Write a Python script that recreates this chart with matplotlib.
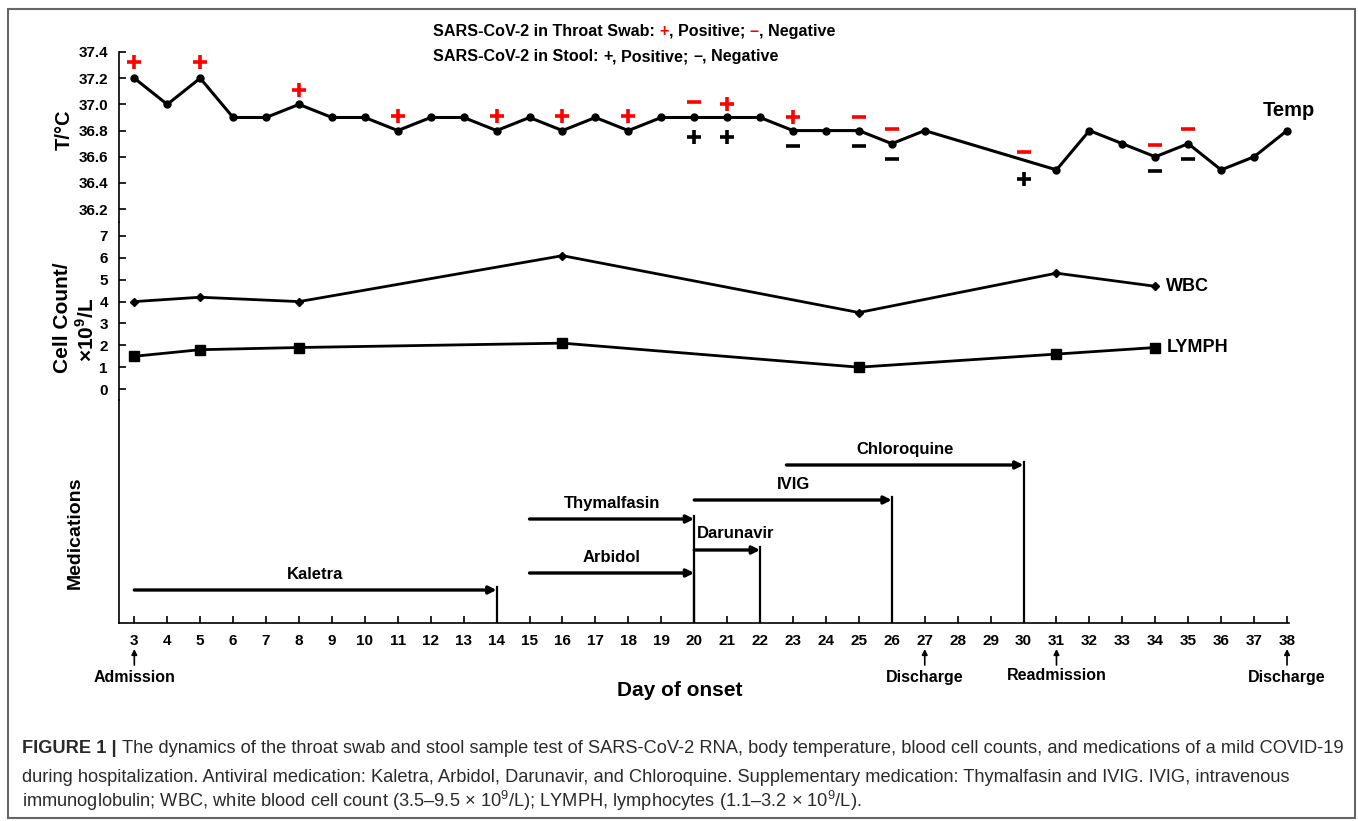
import numpy as np
import matplotlib.pyplot as plt
from matplotlib.patches import Rectangle

plt.rcParams['font.family'] = ['Liberation Sans', 'DejaVu Sans']
plt.rcParams['font.weight'] = 'bold'
plt.rcParams['mathtext.fontset'] = 'custom'
plt.rcParams['mathtext.rm'] = 'Liberation Sans'
plt.rcParams['mathtext.bf'] = 'Liberation Sans:bold'

# body temperature by day of onset (no readings on days 28-30)
temp_day = [3, 4, 5, 6, 7, 8, 9, 10, 11, 12, 13, 14, 15, 16, 17, 18, 19, 20, 21, 22,
            23, 24, 25, 26, 27, 31, 32, 33, 34, 35, 36, 37, 38]
temp_val = [37.2, 37.0, 37.2, 36.9, 36.9, 37.0, 36.9, 36.9, 36.8, 36.9, 36.9, 36.8, 36.9,
            36.8, 36.9, 36.8, 36.9, 36.9, 36.9, 36.9, 36.8, 36.8, 36.8, 36.7, 36.8,
            36.5, 36.8, 36.7, 36.6, 36.7, 36.5, 36.6, 36.8]

# SARS-CoV-2 results (sign, day, height on the temperature scale)
throat_day = [3, 5, 8, 11, 14, 16, 18, 20, 21, 23, 25, 26, 30, 34, 35]
throat_res = ['+', '+', '+', '+', '+', '+', '+', '-', '+', '+', '-', '-', '-', '-', '-']
throat_y = [37.32, 37.32, 37.11, 36.91, 36.91, 36.91, 36.91, 37.02, 37.0, 36.9, 36.9,
            36.81, 36.64, 36.69, 36.81]
stool_day = [20, 21, 23, 25, 26, 30, 34, 35]
stool_res = ['+', '+', '-', '-', '-', '+', '-', '-']
stool_y = [36.75, 36.75, 36.68, 36.68, 36.58, 36.43, 36.49, 36.58]

# blood cell counts (x10^9/L)
cell_day = [3, 5, 8, 16, 25, 31, 34]
wbc = [4.0, 4.2, 4.0, 6.1, 3.5, 5.3, 4.7]
lymph = [1.5, 1.8, 1.9, 2.1, 1.0, 1.6, 1.9]

# medications
med_names = ['Kaletra', 'Arbidol', 'Darunavir', 'Thymalfasin', 'IVIG', 'Chloroquine']
med_start = [3, 15, 20, 15, 20, 22.8]
med_end = [14, 20, 22, 20, 26, 30]
med_lane = [33, 50, 73, 104, 123, 158]

event_day = [3, 27, 31, 38]
event_name = ['Admission', 'Discharge', 'Readmission', 'Discharge']

W, H = 1358, 821
fig = plt.figure(figsize=(W / 100, H / 100), dpi=100)


def fx(px):
    return px / W


def fy(py):
    return 1 - py / H


x0, x1 = 119, 1289
xlim = (2.535, 38.06)


def box(top, bottom):
    ax = fig.add_axes([fx(x0), fy(bottom), (x1 - x0) / W, (bottom - top) / H])
    ax.set_xlim(*xlim)
    ax.patch.set_alpha(0)
    for s in ['top', 'right', 'bottom']:
        ax.spines[s].set_visible(False)
    ax.spines['left'].set_linewidth(1.2)
    ax.tick_params(direction='in', length=5, width=1.2, labelsize=11, pad=8)
    return ax


ax_t = box(52, 222)
ax_c = box(222, 400)
ax_m = box(400, 623)

# temperature
ax_t.set_ylim(36.102, 37.4)
ax_t.set_yticks(np.arange(36.2, 37.41, 0.2))
ax_t.set_yticklabels(['%.1f' % v for v in np.arange(36.2, 37.41, 0.2)])
ax_t.set_xticks([])
ax_t.plot(temp_day, temp_val, '-', color='black', lw=2.2, marker='o', ms=5, clip_on=False)
ax_t.annotate('Temp', xy=(38, 36.8), xytext=(2, 20), textcoords='offset pixels',
              ha='center', va='center', fontsize=14.5)
for d, r, y in zip(throat_day, throat_res, throat_y):
    ax_t.plot(d, y, marker='+' if r == '+' else '_', color='red', ms=9.5, mew=2.6, clip_on=False)
for d, r, y in zip(stool_day, stool_res, stool_y):
    ax_t.plot(d, y, marker='+' if r == '+' else '_', color='black', ms=9.5, mew=2.6, clip_on=False)

# cell counts
ax_c.set_ylim(-0.5, 7.64)
ax_c.set_yticks(range(0, 8))
ax_c.set_xticks([])
ax_c.plot(cell_day, wbc, '-', color='black', lw=2, marker='D', ms=4.5)
ax_c.plot(cell_day, lymph, '-', color='black', lw=2, marker='s', ms=7)
ax_c.annotate('WBC', xy=(cell_day[-1], wbc[-1]), xytext=(11, 0), textcoords='offset pixels',
              ha='left', va='center', fontsize=13)
ax_c.annotate('LYMPH', xy=(cell_day[-1], lymph[-1]), xytext=(11, 0), textcoords='offset pixels',
              ha='left', va='center', fontsize=13)

# medications (y in pixel units above the day axis)
ax_m.set_ylim(0, 223)
ax_m.set_yticks([])
ax_m.spines['bottom'].set_visible(True)
ax_m.spines['bottom'].set_linewidth(1.2)
ax_m.set_xticks(range(3, 39))
for name, s, e, lane in zip(med_names, med_start, med_end, med_lane):
    ax_m.annotate('', xy=(e, lane), xytext=(s, lane),
                  arrowprops=dict(arrowstyle='-|>', color='black', lw=2.4,
                                  mutation_scale=11, shrinkA=0, shrinkB=0))
    ax_m.plot([e, e], [0, lane + 3], color='black', lw=1.6)
    if name == 'Darunavir':
        ax_m.annotate(name, xy=(s, lane), xytext=(3, 16), textcoords='offset pixels',
                      ha='left', va='center', fontsize=12)
    else:
        ax_m.annotate(name, xy=((s + e) / 2, lane), xytext=(0, 16), textcoords='offset pixels',
                      ha='center', va='center', fontsize=12)

for d, name in zip(event_day, event_name):
    ax_m.annotate('', xy=(d, -26), xytext=(d, -42), annotation_clip=False,
                  arrowprops=dict(arrowstyle='-|>', color='black', lw=1.2,
                                  mutation_scale=8, shrinkA=0, shrinkB=0))
    ax_m.text(d, -54 if name != 'Readmission' else -52, name, ha='center', va='center',
              fontsize=11.5, clip_on=False)

fig.text(fx(680), fy(691), 'Day of onset', ha='center', va='center', fontsize=15)

# axis titles
fig.text(fx(64), fy(130), 'T/°C', rotation=90, ha='center', va='center', fontsize=14.5)
fig.text(fx(62), fy(318), 'Cell Count/', rotation=90, ha='center', va='center', fontsize=15)
fig.text(fx(86), fy(330), '×10$^{\\mathregular{9}}$/L', rotation=90, ha='center',
         va='center', fontsize=15)
fig.text(fx(75), fy(533), 'Medications', rotation=90, ha='center', va='center', fontsize=14)


def text_run(x, y, parts, size, weight='bold'):
    # pieces of one line, each set right after the previous one
    prev = fig.text(fx(x), fy(y), parts[0][0], color=parts[0][1], fontsize=size,
                    weight=parts[0][2] if len(parts[0]) > 2 else weight, va='bottom')
    for p in parts[1:]:
        prev = ax_t.annotate(p[0], xy=(1, 0), xycoords=prev, va='bottom', ha='left',
                             color=p[1], fontsize=size,
                             weight=p[2] if len(p) > 2 else weight, annotation_clip=False)


# legend lines at the top
text_run(433, 39, [('SARS-CoV-2 in Throat Swab: ', 'black'), ('+', 'red'),
                   (', Positive; ', 'black'), ('–', 'red'), (', Negative', 'black')], 11.6)
text_run(433, 64, [('SARS-CoV-2 in Stool: ', 'black'), ('+', 'black'),
                   (', Positive; ', 'black'), ('–', 'black'), (', Negative', 'black')], 11.6)

# caption
cap = '#2a2a2a'
text_run(22, 757, [('FIGURE 1 | ', cap, 'bold'),
                   ('The dynamics of the throat swab and stool sample test of SARS-CoV-2 RNA, '
                    'body temperature, blood cell counts, and medications of a mild COVID-19',
                    cap, 'normal')], 13.15)
fig.text(fx(22), fy(786), 'during hospitalization. Antiviral medication: Kaletra, Arbidol, '
         'Darunavir, and Chloroquine. Supplementary medication: Thymalfasin and IVIG. IVIG, '
         'intravenous', color=cap, fontsize=13.15, weight='normal', va='bottom')
fig.text(fx(22), fy(813), 'immunoglobulin; WBC, white blood cell count (3.5–9.5 × '
         '10$^{\\mathregular{9}}$/L); LYMPH, lymphocytes (1.1–3.2 × 10$^{\\mathregular{9}}$/L).',
         color=cap, fontsize=13.15, weight='normal', va='bottom')

# frame round the figure
fig.add_artist(Rectangle((fx(8), fy(818)), (1355 - 8) / W, (818 - 9) / H, fill=False,
                         edgecolor='#666666', lw=1.5, transform=fig.transFigure))

fig.savefig('out.png', dpi=100)
